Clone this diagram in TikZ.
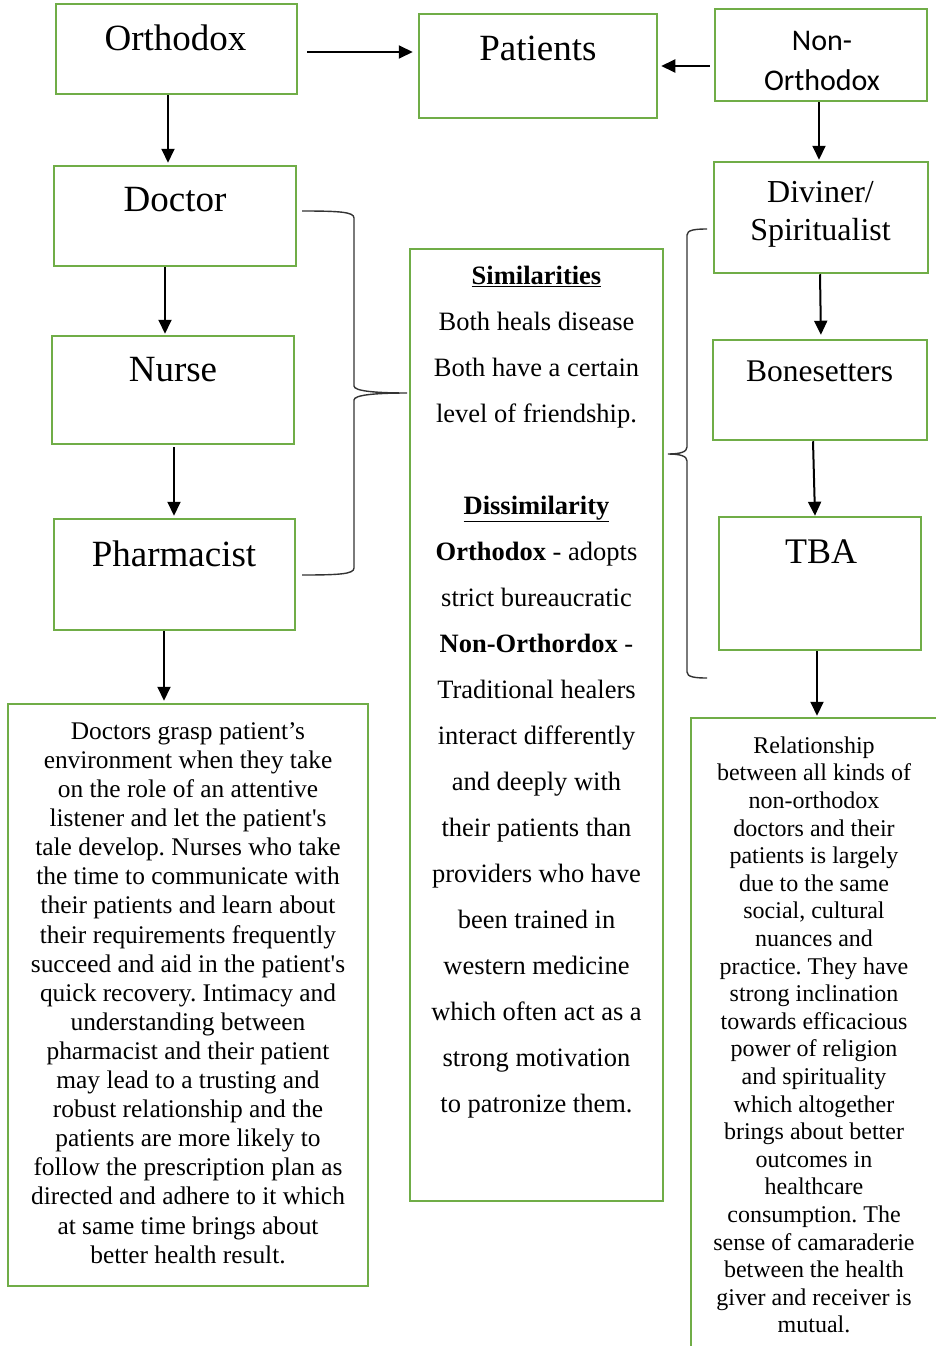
\documentclass[tikz,border=0pt]{standalone}
\usepackage{fontspec}
\setmainfont{Liberation Serif}
\newfontfamily\calibfont{Carlito}
\usepackage{xcolor}
\usetikzlibrary{arrows.meta}
\definecolor{box_green}{HTML}{70AD47}
\frenchspacing

\begin{document}
\begin{tikzpicture}[x=1pt,y=-1pt,
    box/.style={draw=box_green, line width=2.5pt, inner sep=0pt},
    ttl/.style={font=\fontsize{37}{40}\selectfont, inner sep=0pt},
    arr/.style={-{Triangle[length=14pt,width=13pt]}, line width=2pt},
    brace line/.style={line width=1.4pt, draw=black!80}]
      \useasboundingbox (0,0) rectangle (936,1346);
      % Boxes of the two chains
      \node[box, minimum width=241pt, minimum height=90pt] (orth) at (176.5,49) {};
      \node[box, minimum width=238pt, minimum height=104pt] (pat) at (538,66) {};
      \node[box, minimum width=212pt, minimum height=92pt] (non) at (821,55) {};
      \node[box, minimum width=242pt, minimum height=100pt] (doc) at (175,216) {};
      \node[box, minimum width=242pt, minimum height=108pt] (nurse) at (173,390) {};
      \node[box, minimum width=241pt, minimum height=111pt] (pharm) at (174.5,574.5) {};
      \node[box, minimum width=214pt, minimum height=111pt] (div) at (821,217.5) {};
      \node[box, minimum width=214pt, minimum height=100pt] (bone) at (820,390) {};
      \node[box, minimum width=202pt, minimum height=133pt] (tba) at (820,583.5) {};
      % Text boxes
      \node[box, minimum width=360pt, minimum height=582pt] (ltxt) at (188,995) {};
      \node[box, minimum width=253pt, minimum height=952pt] (mid) at (536.5,725) {};
      \node[box, minimum width=255pt, minimum height=652pt] (rtxt) at (818.5,1044) {};
      % Titles
      \node[ttl] (orthT) at (175.5,38) {Orthodox};
      \node[ttl] (patT) at (538,48) {Patients};
      \node[font=\calibfont\fontsize{30}{40}\selectfont, align=center, inner sep=0pt] (nonT) at (822,61) {Non-\\Orthodox};
      \node[ttl] (docT) at (175,200) {Doctor};
      \node[ttl] (nurseT) at (173,370) {Nurse};
      \node[ttl] (pharmT) at (174,554) {Pharmacist};
      \node[font=\fontsize{32}{38}\selectfont, align=center, inner sep=0pt] (divT) at (820.5,214) {Diviner/\\Spiritualist};
      \node[font=\fontsize{31.5}{36}\selectfont, inner sep=0pt] (boneT) at (819.5,371) {Bonesetters};
      \node[font=\fontsize{36}{40}\selectfont, inner sep=0pt] (tbaT) at (821,552) {TBA};
      % Arrows
      \draw[arr, shorten <=9pt, shorten >=5pt] (orth.east |- 0,52) -- (pat.west |- 0,52);
      \draw[arr, shorten <=4pt, shorten >=3pt] (non.west |- 0,66) -- (pat.east |- 0,66);
      \draw[arr, shorten >=2pt] (orth.south -| 168,0) -- (doc.north -| 168,0);
      \draw[arr, shorten >=1pt] (doc.south -| 165,0) -- (nurse.north -| 165,0);
      \draw[arr, shorten <=2pt, shorten >=2pt] (nurse.south -| 174,0) -- (pharm.north -| 174,0);
      \draw[arr, shorten >=2pt] (pharm.south -| 164,0) -- (ltxt.north -| 164,0);
      \draw[arr, shorten >=1pt] (non.south -| 819,0) -- (div.north -| 819,0);
      \draw[arr, shorten >=4pt] (div.south -| 820,0) -- (bone.north -| 821,0);
      \draw[arr, shorten >=0pt] (bone.south -| 813,0) -- (tba.north -| 815,0);
      \draw[arr, shorten >=1pt] (tba.south -| 817,0) -- (rtxt.north -| 817,0);
      % Braces
      \draw[brace line] (302,211) .. controls (340,211) and (354,212) .. (354,218) -- (354,386)
        .. controls (354,391) and (375,393) .. (407,393) .. controls (375,393) and (354,395) .. (354,400)
        -- (354,568) .. controls (354,574) and (340,575) .. (302,575);
      \draw[brace line] (707,229) .. controls (695,229) and (687,230) .. (687,235) -- (687,447)
        .. controls (687,452) and (680,454) .. (668,454) .. controls (680,454) and (687,456) .. (687,461)
        -- (687,672) .. controls (687,677) and (695,678) .. (707,678);
      % Texts
      \node[align=center, font=\fontsize{25.4}{29.1}\selectfont, inner sep=0pt] (ltxtT) at (188,993) {Doctors grasp patient’s\\ environment when they take\\ on the role of an attentive\\ listener and let the patient\textquotesingle s\\ tale develop. Nurses who take\\ the time to communicate with\\ their patients and learn about\\ their requirements frequently\\ succeed and aid in the patient\textquotesingle s\\ quick recovery. Intimacy and\\ understanding between\\ pharmacist and their patient\\ may lead to a trusting and\\ robust relationship and the\\ patients are more likely to\\ follow the prescription plan as\\ directed and adhere to it which\\ at same time brings about\\ better health result.};
      \node[align=center, font=\fontsize{26.5}{46}\selectfont, inner sep=0pt] (midT) at (536.5,692) {\underline{\textbf{Similarities}}\\ Both heals disease\\ Both have a certain\\ level of friendship.\\[46pt] \underline{\textbf{Dissimilarity}}\\ \textbf{Orthodox} - adopts\\ strict bureaucratic\\ \textbf{Non-Orthordox} -\\ Traditional healers\\ interact differently\\ and deeply with\\ their patients than\\ providers who have\\ been trained in\\ western medicine\\ which often act as a\\ strong motivation\\ to patronize them.};
      \node[align=center, font=\fontsize{24}{27.6}\selectfont, inner sep=0pt] (rtxtT) at (814,1035) {Relationship\\ between all kinds of\\ non-orthodox\\ doctors and their\\ patients is largely\\ due to the same\\ social, cultural\\ nuances and\\ practice. They have\\ strong inclination\\ towards efficacious\\ power of religion\\ and spirituality\\ which altogether\\ brings about better\\ outcomes in\\ healthcare\\ consumption. The\\ sense of camaraderie\\ between the health\\ giver and receiver is\\ mutual.};
    \end{tikzpicture}
\end{document}
